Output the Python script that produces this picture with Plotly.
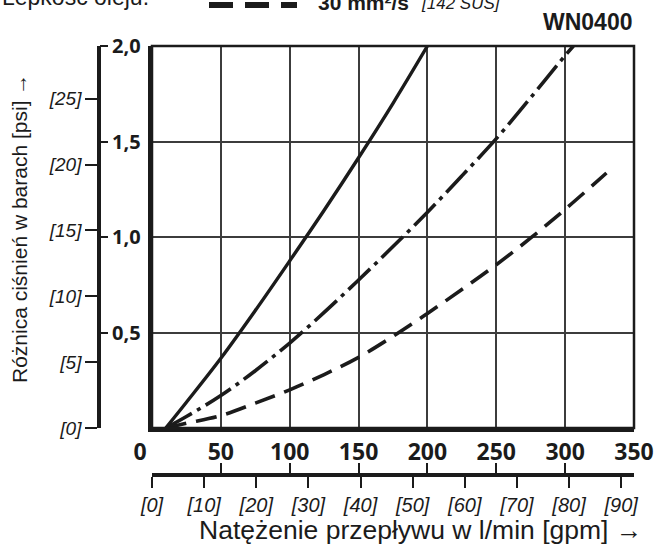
import plotly.graph_objects as go

# Flow rate in l/min and pressure drop in bar for the three viscosity curves
flow_solid = [10, 25, 50, 75, 100, 125, 150, 175, 200]
dp_solid = [0.0, 0.135, 0.365, 0.615, 0.875, 1.14, 1.415, 1.70, 2.0]

flow_dashdot = [10, 25, 50, 75, 100, 125, 150, 175, 200, 225, 250, 275, 300, 306]
dp_dashdot = [0.0, 0.06, 0.17, 0.30, 0.445, 0.605, 0.775, 0.95, 1.13, 1.32, 1.515, 1.73, 1.95, 2.0]

flow_dashed = [10, 25, 50, 75, 100, 125, 150, 175, 200, 225, 250, 275, 300, 330]
dp_dashed = [0.0, 0.025, 0.065, 0.13, 0.2, 0.28, 0.37, 0.48, 0.6, 0.725, 0.855, 0.995, 1.145, 1.335]

# Axis tick values / labels
lmin_ticks = [0, 50, 100, 150, 200, 250, 300, 350]
gpm_ticks = [0, 10, 20, 30, 40, 50, 60, 70, 80, 90]
bar_ticks = [0.5, 1.0, 1.5, 2.0]
psi_ticks = [0, 5, 10, 15, 20, 25]

L_PER_GAL = 3.78541
BAR_PER_PSI = 0.0689476

INK = "#1b1b1b"
GRID = "#3c3c3c"

fig = go.Figure()

common = dict(mode="lines", line_shape="spline", showlegend=False, hoverinfo="skip")
fig.add_trace(go.Scatter(x=flow_solid, y=dp_solid,
                         line=dict(color=INK, width=3.4), **common))
fig.add_trace(go.Scatter(x=flow_dashdot, y=dp_dashdot,
                         line=dict(color=INK, width=3.6, dash="30px,6px,4px,6px"), **common))
fig.add_trace(go.Scatter(x=flow_dashed, y=dp_dashed,
                         line=dict(color=INK, width=3.6, dash="21px,10px"), **common))

# invisible carriers so the secondary scales (gpm, psi) are built
ghost = dict(mode="lines", opacity=0, showlegend=False, hoverinfo="skip", line=dict(width=0))
fig.add_trace(go.Scatter(x=[f / L_PER_GAL for f in flow_dashed], y=dp_dashed, xaxis="x2", yaxis="y", **ghost))
fig.add_trace(go.Scatter(x=flow_dashed, y=dp_dashed, xaxis="x3", yaxis="y", **ghost))
fig.add_trace(go.Scatter(x=flow_dashed, y=dp_dashed, xaxis="x", yaxis="y2", **ghost))
fig.add_trace(go.Scatter(x=flow_dashed, y=[d / BAR_PER_PSI for d in dp_dashed], xaxis="x", yaxis="y3", **ghost))

# plot frame 152..634 x 46..428 px; outer scales at x=99 and y=475
W, H = 656, 545
ML, MR, MT, MB = 99, 22, 46, 70
PW, PH = W - ML - MR, H - MT - MB
xdom0 = (152 - ML) / PW
ydom0 = (H - MB - 428) / PH


def px(xp):
    return (xp - ML) / PW


def py(yp):
    return (H - MB - yp) / PH


bold_x = dict(family="Open Sans", size=23, color=INK, weight="bold")
bold_y = dict(family="Open Sans", size=20, color=INK, weight="bold")
ital = dict(family="Liberation Sans", size=19, color=INK, style="italic")

# the "0" label sits a little left of the origin
lmin_text = [str(v) if v else "0" + "\u00a0" * 4 for v in lmin_ticks]

fig.update_layout(
    width=W, height=H,
    margin=dict(l=ML, r=MR, t=MT, b=MB, autoexpand=False),
    paper_bgcolor="white", plot_bgcolor="white",
    showlegend=False,
    xaxis=dict(
        domain=[xdom0, 1], range=[0, 350], anchor="y",
        tickvals=lmin_ticks, ticktext=lmin_text,
        tickfont=bold_x, ticks="", ticklabelstandoff=0,
        showgrid=True, gridcolor=GRID, gridwidth=1.5,
        showline=True, linecolor=INK, linewidth=4,
        zeroline=False, fixedrange=True,
    ),
    xaxis2=dict(
        domain=[xdom0, 1], range=[0, 350 / L_PER_GAL], overlaying="x",
        anchor="free", position=0, side="bottom",
        tickvals=gpm_ticks, ticktext=[f"[{v}]" for v in gpm_ticks],
        tickfont=dict(family="Liberation Sans", size=20, color=INK, style="italic"),
        ticks="outside", ticklen=11, tickwidth=2, tickcolor=INK,
        showline=True, linecolor=INK, linewidth=3.5,
        showgrid=False, zeroline=False,
    ),
    xaxis3=dict(
        domain=[xdom0, 1], range=[0, 350], overlaying="x",
        anchor="free", position=0, side="bottom",
        tickvals=lmin_ticks, showticklabels=False,
        ticks="inside", ticklen=12, tickwidth=2, tickcolor=INK,
        showline=False, showgrid=False, zeroline=False,
    ),
    yaxis=dict(
        domain=[ydom0, 1], range=[0, 2], anchor="x",
        tickvals=bar_ticks, showticklabels=False, ticks="",
        showgrid=True, gridcolor=GRID, gridwidth=1.5,
        showline=True, linecolor=INK, linewidth=4,
        zeroline=False, fixedrange=True,
    ),
    yaxis2=dict(
        domain=[ydom0, 1], range=[0, 2], overlaying="y",
        anchor="free", position=0, side="right",
        tickvals=bar_ticks, ticktext=[f"{v:.1f}".replace(".", ",") for v in bar_ticks],
        tickfont=bold_y, ticks="outside", ticklen=8, tickwidth=2, tickcolor=INK,
        showline=False, showgrid=False, zeroline=False,
    ),
    yaxis3=dict(
        domain=[ydom0, 1], range=[0, 2 / BAR_PER_PSI], overlaying="y",
        anchor="free", position=0, side="left",
        tickvals=psi_ticks, ticktext=[f"[{v}]" for v in psi_ticks],
        tickfont=ital, ticks="outside", ticklen=12, tickwidth=2, tickcolor=INK,
        showline=True, linecolor=INK, linewidth=3.5,
        showgrid=False, zeroline=False,
    ),
    shapes=[
        # thinner top/right border of the frame
        dict(type="rect", xref="x domain", yref="y domain", x0=0, x1=1, y0=0, y1=1,
             line=dict(color=INK, width=2.5), layer="above"),
        # legend sample for the dashed curve
        dict(type="line", xref="paper", yref="paper",
             x0=px(209), x1=px(297), y0=py(5), y1=py(5),
             line=dict(color=INK, width=6, dash="24px,12px")),
    ],
    annotations=[
        dict(text="Różnica ciśnień w barach [psi] →", xref="paper", yref="paper",
             x=px(19), y=py(229), textangle=-90, showarrow=False,
             xanchor="center", yanchor="middle",
             font=dict(family="Liberation Sans", size=21, color=INK)),
        dict(text="Natężenie przepływu w l/min [gpm] →", xref="paper", yref="paper",
             x=px(420), y=py(530), showarrow=False, xanchor="center", yanchor="middle",
             font=dict(family="Liberation Sans", size=26.5, color=INK)),
        dict(text="WN0400", xref="paper", yref="paper",
             x=px(634), y=py(22), showarrow=False, xanchor="right", yanchor="middle",
             font=dict(family="Liberation Sans", size=23, color=INK, weight="bold")),
        dict(text="30 mm²/s", xref="paper", yref="paper",
             x=px(316), y=py(3), showarrow=False, xanchor="left", yanchor="middle",
             font=dict(family="Liberation Sans", size=21, color=INK, weight="bold")),
        dict(text="[142 SUS]", xref="paper", yref="paper",
             x=px(419), y=py(4), showarrow=False, xanchor="left", yanchor="middle",
             font=dict(family="Liberation Sans", size=17, color=INK, style="italic")),
        dict(text="Lepkość oleju:", xref="paper", yref="paper",
             x=px(0), y=py(-3), showarrow=False, xanchor="left", yanchor="middle",
             font=dict(family="Liberation Sans", size=23, color=INK)),
    ],
)

fig.write_html("out.html")
